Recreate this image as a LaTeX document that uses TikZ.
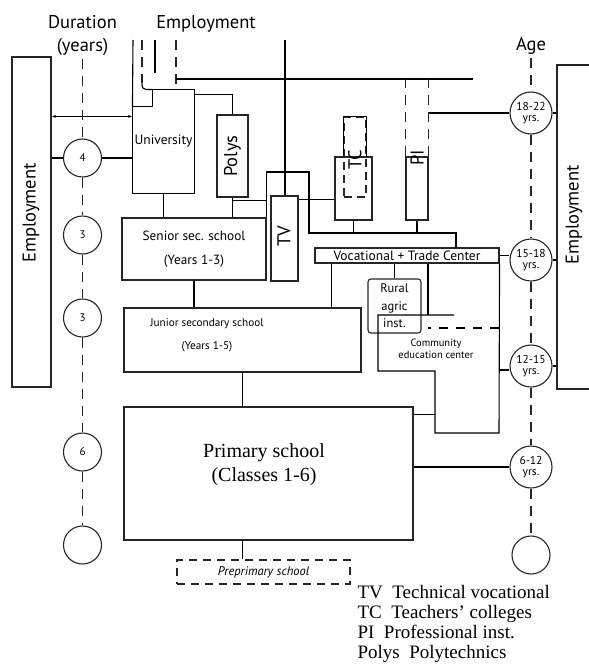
\documentclass[tikz,border=0pt]{standalone}
\usepackage{fontspec}
\setmainfont{Liberation Serif}
\setsansfont{PT Sans}
\usetikzlibrary{positioning,arrows.meta,calc}

\begin{document}
\begin{tikzpicture}[
  x=1pt, y=-1pt,
  font=\sffamily\fontsize{12pt}{13pt}\selectfont,
  line width=1.1pt,
  box/.style={
    rectangle,
    draw=black!85,
    inner sep=0pt,
    align=center,
  },
  ring/.style={circle, draw=black!85, inner sep=0pt, minimum size=38pt,
    font=\sffamily\fontsize{11pt}{11pt}\selectfont},
  agering/.style={ring, minimum size=42pt, align=center,
    font=\sffamily\fontsize{11.5pt}{11.5pt}\selectfont},
  dashline/.style={draw=black!85, dash pattern=on 10pt off 7pt},
  biarrow/.style={{Latex[length=4pt]}-{Latex[length=4pt]}, line width=0.9pt},
  big/.style={font=\sffamily\fontsize{18.5pt}{23pt}\selectfont},
]
  \useasboundingbox (0,0) rectangle (589,664);

  % --- Duration column (left) ---
  \node[box, minimum width=39pt, minimum height=330pt] (empL) at (31.5,222) {};
  \node[big, rotate=90] (empLt) at (31,213) {Employment};
  \node[big, align=center] (durlab) at (82.5,35) {Duration\\(years)};
  \node[ring] (dur4) at (82.5,158) {4};
  \node[ring] (dur3a) at (82.5,235) {3};
  \node[ring] (dur3b) at (82.5,318) {3};
  \node[ring] (dur6) at (82.5,452) {6};
  \node[ring] (dur0) at (82.5,545) {};

  \draw[dashline] (durlab.south) -- (dur4.north);
  \foreach \a/\b in {dur4/dur3a, dur3a/dur3b, dur3b/dur6, dur6/dur0} {
    \draw[dashline] (\a.south) -- (\b.north);
  }

  % --- Age column (right) ---
  \node[big] (agelab) at (531,46) {Age};
  \node[agering] (age1) at (531,113) {18-22\\yrs.};
  \node[agering] (age2) at (531,260) {15-18\\yrs.};
  \node[agering] (age3) at (531,366) {12-15\\yrs.};
  \node[agering] (age4) at (531,467) {6-12\\yrs.};
  \node[ring] (age0) at (531,555) {};
  \node[box, minimum width=44pt, minimum height=324pt] (empR) at (579,227) {};
  \node[big, rotate=90] (empRt) at (574,215) {Employment};

  \draw[dashline] (agelab.south) -- (age1.north);
  \foreach \a/\b in {age1/age2, age2/age3, age3/age4, age4/age0} {
    \draw[dashline] (\a.south) -- (\b.north);
  }
  \foreach \c in {age1, age2, age3} {
    \draw (\c.east) -- (\c.east -| empR.west);
  }

  % --- Higher level ---
  \node[big] (emplab) at (206,24) {Employment};
  \coordinate (e1) at (133,40);
  \coordinate (e2) at (142,40);
  \coordinate (e3) at (155,40);
  \coordinate (e4) at (176,40);
  \coordinate (hL) at (176,79);
  \coordinate (hR) at (473,79);

  \node[box, draw=none, minimum width=61pt, minimum height=103pt,
    font=\sffamily\fontsize{13.5pt}{14pt}\selectfont] (univ) at (163.5,141.5) {University};
  \draw (univ.south west) -- ($(univ.north west)+(0,17)$) -- ++(20,0)
    -- ($(univ.north west)+(20,0)$) -- (univ.north east) -- (univ.south east) -- cycle;

  \draw (e1) -- ($(univ.north west)+(0,17)$);
  \draw[dashline] (e2) -- ($(e2 |- univ.north)+(0,-6)$);
  \draw[rounded corners=4pt] ($(e2 |- univ.north)+(0,-6)$) |- ($(univ.north west)+(20,0)$);
  \draw (e3) -- ++(0,33);
  \draw[dashline] (e4) -- (e4 |- univ.north);
  \draw (hL) -- (hR);

  \node[box, minimum width=31pt, minimum height=82pt] (polys) at (232.5,156) {};
  \node[big, rotate=90] (polyst) at (polys.center) {Polys};

  \node[box, minimum width=27pt, minimum height=85pt] (tv) at (284.5,238.5) {};
  \node[big, rotate=90] (tvt) at (284,236) {TV};

  \node[box, dashed, dash pattern=on 8pt off 5pt, minimum width=22pt, minimum height=80pt] (tcU) at (355,157) {};
  \draw (tcU.west) |- (tcU.north) -| (tcU.east);
  \node[box, minimum width=37pt, minimum height=63pt] (tcL) at (353.5,188.5) {};
  \node[big, rotate=90] (tct) at (355,160) {TC};

  \node[box, minimum width=22pt, minimum height=63pt] (pi) at (417,188.5) {};
  \node[big, rotate=90] (pit) at (417,158) {PI};

  % --- Secondary level ---
  \node[box, minimum width=144pt, minimum height=62pt,
    font=\sffamily\fontsize{13.3pt}{24pt}\selectfont] (senior) at (194,249) {Senior sec. school\\(Years 1-3)};
  \node[box, minimum width=237pt, minimum height=64pt] (junior) at (242.5,340) {};
  \node[font=\sffamily\fontsize{11.2pt}{23pt}\selectfont, align=center] (juniort) at (207,335.5)
    {Junior secondary school\\(Years 1-5)};

  \node[box, minimum width=184pt, minimum height=15pt,
    font=\sffamily\fontsize{13.5pt}{14pt}\selectfont] (voc) at (407,255.5) {Vocational + Trade Center};
  \node[box, rounded corners=3pt, minimum width=53pt, minimum height=54pt,
    font=\sffamily\fontsize{12.5pt}{17.5pt}\selectfont] (rural) at (394.5,306) {Rural\\agric\\inst.};

  \coordinate (cA) at (378,315);
  \coordinate (cB) at (454,315);
  \coordinate (cD) at (435,371);
  \coordinate (cF) at (499,433);
  \coordinate (cG) at (499,328);
  \coordinate (cH) at (428,328);
  \draw (cB) -- (cA) |- (cD) |- (cF) -- (voc.south east);
  \draw[dash pattern=on 9pt off 8pt] (cG) -- (cH);
  \node[font=\sffamily\fontsize{10.5pt}{12pt}\selectfont, align=center] (comm) at (436,349)
    {Community\\education center};

  % --- Primary level ---
  \node[box, minimum width=289pt, minimum height=133pt] (primary) at (268.5,473.5) {};
  \node[font=\rmfamily\fontsize{20pt}{24pt}\selectfont, align=center] (primaryt) at (264,465)
    {Primary school\\(Classes 1-6)};
  \node[box, dashed, dash pattern=on 8pt off 6pt, minimum width=173pt, minimum height=24pt,
    font=\sffamily\itshape\fontsize{12.5pt}{13pt}\selectfont] (preprim) at (263.5,572) {Preprimary school};

  % --- connectors ---
  \draw (empL.east |- dur4) -- (dur4.west);
  \draw (dur4.east) -- (dur4 -| univ.west);
  \coordinate (arrL) at ($(empL.north east)+(0,60)$);
  \draw[biarrow] (arrL) -- (arrL -| univ.west);

  \draw (univ.south) -- (univ.south |- senior.north);
  \draw ($(univ.north east)+(0,5)$) -| (polys.north);
  \draw (polys.south) -- (polys.south |- senior.north);
  \coordinate (pj) at ($(polys.south)+(0,3)$);
  \draw (pj) -- (pj -| senior.east);

  \coordinate (tvo) at (309,172);
  \coordinate (bus) at (309,233);
  \coordinate (busE) at (456,233);
  \draw (senior.north east) |- (tvo) -- (bus) -- (busE) -- (busE |- voc.north);
  \draw[line width=2pt] (tv.north) -- (tv.north |- e1);
  \coordinate (tj) at ($(tv.north east)+(0,4)$);
  \draw (tj) -- (tj -| tcL.west);
  \draw (tcL.south) -- (tcL.south |- bus);
  \draw (pi.south) -- (pi.south |- bus);
  \draw[dashline] (pi.north west) -- (pi.north west |- hL);
  \draw[dashline] (pi.north east) -- (pi.north east |- hL);
  \draw (age1.west) -- (age1.west -| pi.east);

  \draw (voc.south -| rural.north) -- (rural.north);
  \draw (voc.south -| cH) -- (cH |- cA);
  \coordinate (vj) at ($(voc.south west)+(17,0)$);
  \draw (vj) -- (vj |- junior.north);
  \draw (voc.east) -- (voc.east -| age2.west);
  \coordinate (cR) at (499,370);
  \draw (cR) -- (cR -| age3.west);

  \draw (senior.south) -- (senior.south |- junior.north);
  \draw (junior.south) -- (junior.south |- primary.north);
  \draw (primary.south -| junior.south) -- (preprim.north -| junior.south);
  \coordinate (pc) at ($(primary.north east)+(0,8)$);
  \draw (pc) -- (pc -| cD);
  \draw (age4.west -| primary.east) -- (age4.west);

  % --- key ---
  \node[font=\rmfamily\fontsize{19pt}{20pt}\selectfont, align=left, anchor=north west, inner sep=0pt]
    (legend) at (357,585) {TV\ \ Technical vocational\\TC\ \ Teachers' colleges\\PI\ \ Professional inst.\\Polys\ \ Polytechnics};

\end{tikzpicture}
\end{document}
